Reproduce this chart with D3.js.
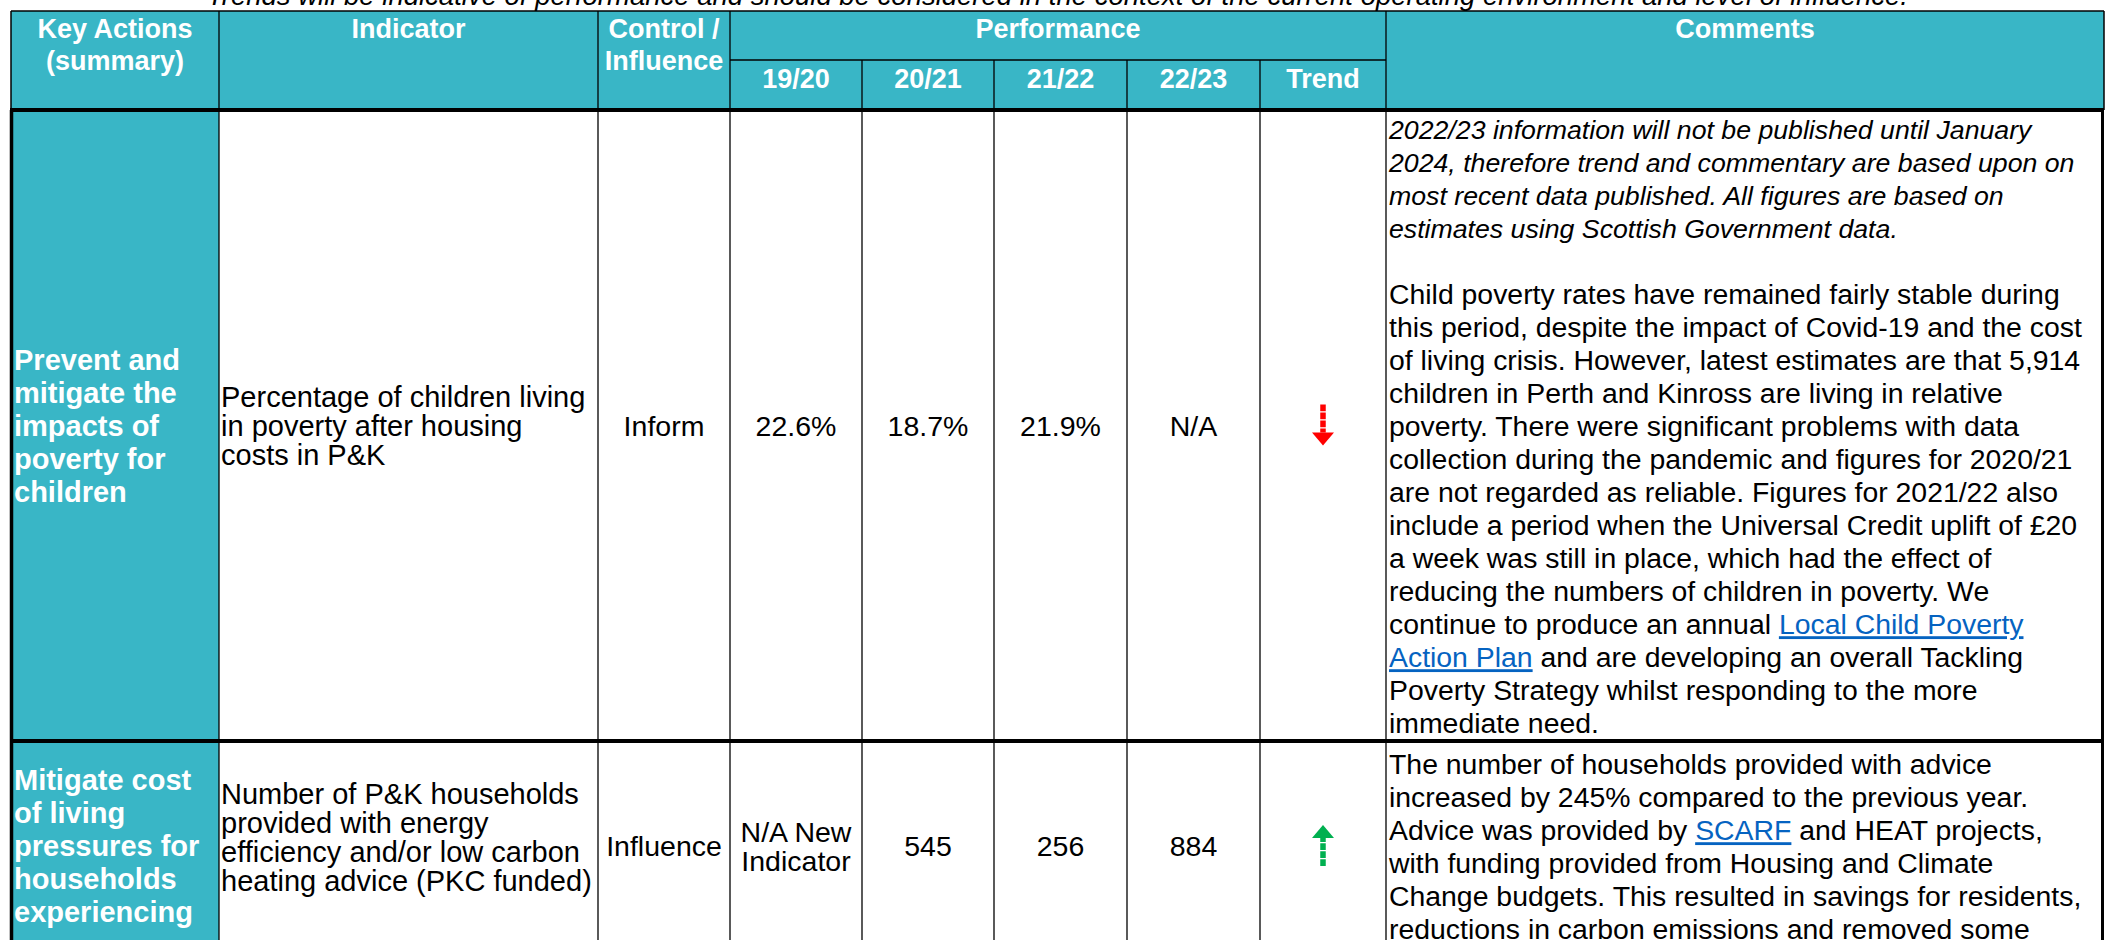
<!DOCTYPE html>
<html>
<head>
<meta charset="utf-8">
<script src="https://cdn.jsdelivr.net/npm/d3@7"></script>
<style>
  body { margin: 0; background: #fff; }
  svg { display: block; }
  text { font-family: "Liberation Sans", Arial, sans-serif; }
</style>
</head>
<body>
<svg id="chart"></svg>
<script>
// ---- data ----
const title = 'Trends will be indicative of performance and should be considered in the context of the current operating environment and level of influence.';

const headerLabels = ['Key Actions\n(summary)', 'Indicator', 'Control /\nInfluence', 'Performance', 'Comments'];
const periodLabels = ['19/20', '20/21', '21/22', '22/23', 'Trend'];

const keyActions = [
  'Prevent and\nmitigate the\nimpacts of\npoverty for\nchildren',
  'Mitigate cost\nof living\npressures for\nhouseholds\nexperiencing'
];
const indicators = [
  'Percentage of children living\nin poverty after housing\ncosts in P&K',
  'Number of P&K households\nprovided with energy\nefficiency and/or low carbon\nheating advice (PKC funded)'
];
const controlInfluence = ['Inform', 'Influence'];
const values1920 = ['22.6%', 'N/A New\nIndicator'];
const values2021 = ['18.7%', '545'];
const values2122 = ['21.9%', '256'];
const values2223 = ['N/A', '884'];
const trends = ['down', 'up'];

// "*" = italic line, [..] = link text
const comments = [
  [
    '*2022/23 information will not be published until January',
    '*2024, therefore trend and commentary are based upon on',
    '*most recent data published. All figures are based on',
    '*estimates using Scottish Government data.',
    '',
    'Child poverty rates have remained fairly stable during',
    'this period, despite the impact of Covid-19 and the cost',
    'of living crisis. However, latest estimates are that 5,914',
    'children in Perth and Kinross are living in relative',
    'poverty. There were significant problems with data',
    'collection during the pandemic and figures for 2020/21',
    'are not regarded as reliable. Figures for 2021/22 also',
    'include a period when the Universal Credit uplift of £20',
    'a week was still in place, which had the effect of',
    'reducing the numbers of children in poverty. We',
    'continue to produce an annual [Local Child Poverty]',
    '[Action Plan] and are developing an overall Tackling',
    'Poverty Strategy whilst responding to the more',
    'immediate need.'
  ],
  [
    'The number of households provided with advice',
    'increased by 245% compared to the previous year.',
    'Advice was provided by [SCARF] and HEAT projects,',
    'with funding provided from Housing and Climate',
    'Change budgets. This resulted in savings for residents,',
    'reductions in carbon emissions and removed some'
  ]
];

// ---- layout ----
const W = 2107, H = 940;
const TEAL = '#39b6c6';
const LINK = '#0563c1';
const trendColor = { up: '#00b050', down: '#ff0000' };

const colKeys = ['action', 'indicator', 'control', 'p0', 'p1', 'p2', 'p3', 'trend', 'comments'];
const edges = [11, 219, 598, 730, 862, 994, 1127, 1260, 1386, 2104];
const colX = d3.scaleOrdinal().domain(colKeys).range(edges.slice(0, -1));
const colR = d3.scaleOrdinal().domain(colKeys).range(edges.slice(1));
const colMid = k => (colX(k) + colR(k)) / 2;

const headTop = 11, headMid = 60, headBottom = 110;
const rowTop = d3.scaleOrdinal().domain([0, 1]).range([headBottom, 741]);
const rowBottom = d3.scaleOrdinal().domain([0, 1]).range([741, 951]);
const rowMid = i => (rowTop(i) + rowBottom(i)) / 2;
const indicatorNudge = [0, -9];

const svg = d3.select('#chart').attr('width', W).attr('height', H);

// text block helper: lines centred on cy (or starting at opts.top)
const block = (g, str, x, cy, opts) => {
  const lines = str.split('\n');
  const fs = opts.size;
  const lh = opts.lh || 33;
  const first = opts.top != null ? opts.top : cy - ((lines.length - 1) / 2) * lh;
  g.append('text')
    .attr('x', x)
    .attr('text-anchor', opts.anchor || 'start')
    .attr('font-size', fs)
    .attr('font-weight', opts.bold ? 'bold' : 'normal')
    .attr('fill', opts.color || '#000')
    .selectAll('tspan')
    .data(lines)
    .join('tspan')
    .attr('x', x)
    .attr('y', (d, i) => first + i * lh + fs * 0.36)
    .text(d => d);
};

// title (mostly cut off by the top edge, as in the source)
svg.append('text')
  .attr('x', (edges[0] + edges[edges.length - 1]) / 2)
  .attr('y', 5)
  .attr('text-anchor', 'middle')
  .attr('font-size', 27.5)
  .attr('font-style', 'italic')
  .text(title);

// backgrounds
svg.append('rect')
  .attr('x', colX('action')).attr('y', headTop)
  .attr('width', edges[edges.length - 1] - colX('action'))
  .attr('height', headBottom - headTop)
  .attr('fill', TEAL);

const rows = [0, 1];
svg.selectAll('.action-bg')
  .data(rows)
  .join('rect')
  .attr('class', 'action-bg')
  .attr('x', colX('action')).attr('y', rowTop)
  .attr('width', colR('action') - colX('action'))
  .attr('height', i => rowBottom(i) - rowTop(i))
  .attr('fill', TEAL);

// header text
const header = svg.append('g');
const headerCols = [['action'], ['indicator'], ['control'], ['p0', 'trend'], ['comments']];
headerLabels.forEach((label, i) => {
  const [a, b] = headerCols[i];
  const x = (colX(a) + colR(b || a)) / 2;
  block(header, label, x, null, { top: 28, size: 27, lh: 32, bold: true, color: '#fff', anchor: 'middle' });
});
periodLabels.forEach((label, i) => {
  const k = colKeys[3 + i];
  block(header, label, colMid(k), null, { top: 78, size: 27, bold: true, color: '#fff', anchor: 'middle' });
});

// body cells
const body = svg.append('g');
const valueCols = [values1920, values2021, values2122, values2223];
rows.forEach(i => {
  const cy = rowMid(i);
  block(body, keyActions[i], colX('action') + 3, cy, { size: 29, bold: true, color: '#fff' });
  block(body, indicators[i], colX('indicator') + 2, cy + indicatorNudge[i], { size: 29, lh: 29 });
  block(body, controlInfluence[i], colMid('control'), cy, { size: 28.5, lh: 29, anchor: 'middle' });
  valueCols.forEach((vals, j) => {
    block(body, vals[i], colMid('p' + j), cy, { size: 28.5, lh: 29, anchor: 'middle' });
  });
});

// trend arrows
const arrows = svg.append('g');
rows.forEach(i => {
  const s = trends[i] === 'up' ? -1 : 1;
  const cx = colMid('trend'), cy = rowMid(i) - 0.5;
  const col = trendColor[trends[i]];
  arrows.append('line')
    .attr('x1', cx).attr('x2', cx)
    .attr('y1', cy - s * 20.5).attr('y2', cy + s * 7.5)
    .attr('stroke', col).attr('stroke-width', 5.5)
    .attr('stroke-dasharray', '6.8 1.2');
  arrows.append('path')
    .attr('d', d3.line()([[cx - 11, cy + s * 7.5], [cx + 11, cy + s * 7.5], [cx, cy + s * 20.5]]) + 'Z')
    .attr('fill', col);
});

// comments with italic lines and links
const comm = svg.append('g');
const COMMENT_FS = 28.4, ITALIC_FS = 26.7;
rows.forEach(i => {
  const top = rowTop(i) + (i === 0 ? 19 : 23);
  const t = comm.append('text').attr('font-size', COMMENT_FS);
  comments[i].forEach((line, li) => {
    const italic = line.startsWith('*');
    const parts = (italic ? line.slice(1) : line).split(/(\[[^\]]*\])/).filter(p => p !== '');
    const y = top + li * 33 + COMMENT_FS * 0.36;
    parts.forEach((p, pi) => {
      const isLink = p.startsWith('[');
      const ts = t.append('tspan')
        .attr('y', y)
        .text(isLink ? p.slice(1, -1) : p);
      if (pi === 0) ts.attr('x', colX('comments') + 3);
      if (italic) ts.attr('font-style', 'italic').attr('font-size', ITALIC_FS);
      if (isLink) ts.attr('fill', LINK).attr('text-decoration', 'underline');
    });
  });
});

// grid lines
const grid = svg.append('g').attr('stroke', '#000');
const vline = (x, y1, y2, w) =>
  grid.append('line').attr('x1', x).attr('x2', x).attr('y1', y1).attr('y2', y2).attr('stroke-width', w);
const hline = (y, x1, x2, w) =>
  grid.append('line').attr('x1', x1).attr('x2', x2).attr('y1', y).attr('y2', y).attr('stroke-width', w);

// header borders
hline(headTop, edges[0], edges[edges.length - 1], 1.5);
hline(headMid, colX('p0'), colR('trend'), 1.3);
vline(edges[0], headTop, headBottom, 1.5);
vline(edges[edges.length - 1], headTop, headBottom, 1.5);
['indicator', 'control', 'p0', 'comments'].forEach(k => vline(colX(k), headTop, headBottom, 1.3));
['p1', 'p2', 'p3', 'trend'].forEach(k => vline(colX(k), headMid, headBottom, 1.3));

// body borders
colKeys.slice(1).forEach(k => vline(colX(k), headBottom, H, 1.3));
vline(edges[0] + 0.5, headBottom, H, 3.5);
vline(edges[edges.length - 1] - 1.5, headBottom, H, 3);
hline(headBottom, edges[0] - 1, edges[edges.length - 1], 4);
rows.forEach(i => hline(rowBottom(i), edges[0] - 1, edges[edges.length - 1], 4));
</script>
</body>
</html>
